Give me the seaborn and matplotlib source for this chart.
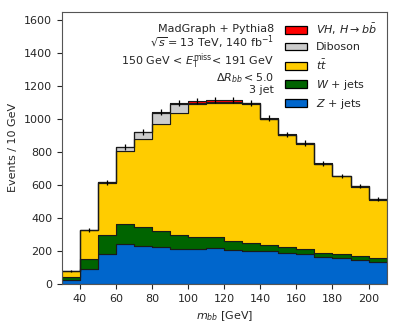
import numpy as np
import pandas as pd
import matplotlib
matplotlib.use('Agg')
import matplotlib.pyplot as plt
import seaborn as sns
from matplotlib.patches import Patch

# m_bb binning (10 GeV bins, 30-210 GeV)
bin_edges = list(range(30, 211, 10))
bin_centers = np.array(bin_edges[:-1]) + 5

# events per bin for each process
z_jets = [22, 90, 184, 240, 230, 224, 214, 210, 220, 206, 200, 202, 190, 180, 163, 156, 145, 135]
w_jets = [17, 60, 110, 125, 115, 99, 83, 73, 61, 55, 46, 36, 36, 30, 27, 24, 21, 23]
ttbar = [38, 175, 318, 443, 532, 647, 741, 807, 814, 835, 844, 760, 677, 640, 537, 472, 424, 353]
diboson = [1, 2, 3, 22, 44, 66, 50, 9, 6, 6, 5, 3, 2, 2, 2, 1, 1, 1]
vh_hbb = [0, 0, 1, 2, 2, 4, 8, 11, 12, 12, 4, 3, 2, 1, 1, 1, 1, 1]
stat_err = [6, 10, 15, 18, 18, 18, 18, 18, 18, 18, 18, 17, 16, 16, 15, 14, 14, 13]

labels = [r'$VH$, $H\rightarrow b\bar{b}$', 'Diboson', r'$t\bar{t}$', r'$W$ + jets', r'$Z$ + jets']
colors = ['#ff0000', '#cccccc', '#ffcc00', '#006400', '#0066cc']
series = [vh_hbb, diboson, ttbar, w_jets, z_jets]

df = pd.concat([pd.DataFrame({'mbb': bin_centers, 'w': vals, 'process': lab})
                for lab, vals in zip(labels, series)], ignore_index=True)

sns.set_style('ticks')
plt.rcParams['font.size'] = 8
plt.rcParams['font.family'] = ['DejaVu Sans']

fig = plt.figure(figsize=(3.99, 3.32), dpi=100)
ax = fig.add_axes([0.155, 0.145, 0.814, 0.82])

sns.histplot(data=df, x='mbb', weights='w', hue='process', hue_order=labels,
             palette=dict(zip(labels, colors)), multiple='stack', bins=bin_edges,
             element='step', alpha=1, edgecolor='#1a1a1a', linewidth=0.8,
             legend=False, ax=ax)

total = np.sum(series, axis=0)
ax.errorbar(bin_centers, total, yerr=stat_err, fmt='none', ecolor='black', elinewidth=0.9)

ax.set_xlim(30, 210)
ax.set_ylim(0, 1650)
ax.set_xticks(np.arange(40, 201, 20))
ax.set_yticks(np.arange(0, 1601, 200))
ax.set_xlabel(r'$m_{bb}$ [GeV]', fontsize=8)
ax.set_ylabel('Events / 10 GeV', fontsize=8)
ax.tick_params(labelsize=8, length=3.5, width=0.8)
for s in ax.spines.values():
    s.set_linewidth(0.8)
    s.set_color('#555555')

# annotation block
info = '\n'.join(['MadGraph + Pythia8',
                  r'$\sqrt{s} = 13$ TeV, 140 fb$^{-1}$',
                  r'150 GeV < $E_{\mathrm{T}}^{\mathrm{miss}}$< 191 GeV',
                  r'$\Delta R_{bb} < 5.0$',
                  '3 jet'])
ax.text(0.653, 0.955, info, transform=ax.transAxes, ha='right', va='top',
        multialignment='right', linespacing=1.0, fontsize=8)

handles = [Patch(facecolor=c, edgecolor='black', linewidth=0.9) for c in colors]
ax.legend(handles, labels, loc='upper right', frameon=False, fontsize=8)

fig.savefig('out.png', dpi=100)
